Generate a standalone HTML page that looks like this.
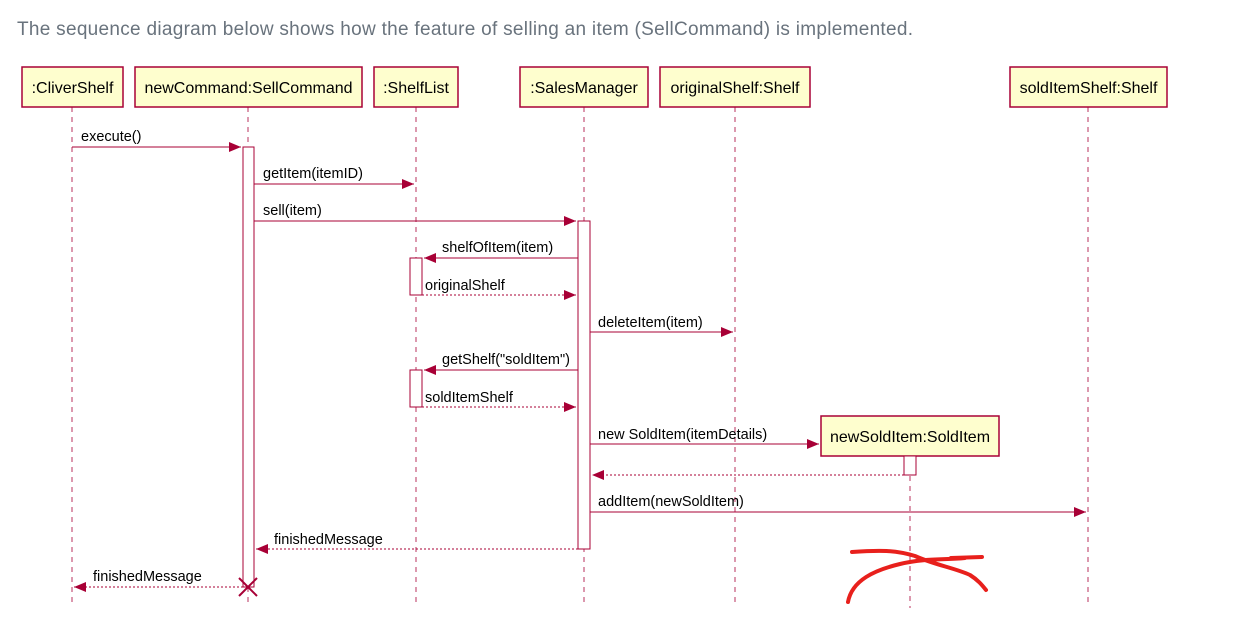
<!DOCTYPE html>
<html><head><meta charset="utf-8"><style>
html,body{margin:0;padding:0;background:#fff;width:1235px;height:628px;overflow:hidden}
svg{display:block}
</style></head><body>
<svg width="1235" height="628" xmlns="http://www.w3.org/2000/svg">
<defs>
<marker id="a" markerWidth="12" markerHeight="10" refX="12" refY="5" orient="auto" markerUnits="userSpaceOnUse"><path d="M0,0 L12,5 L0,10 z" fill="#a80036"/></marker>
</defs>
<text x="17" y="35" font-family="Liberation Sans, sans-serif" font-size="19" fill="#69737d" textLength="896" lengthAdjust="spacing">The sequence diagram below shows how the feature of selling an item (SellCommand) is implemented.</text>
<g stroke="#a80036" stroke-width="1" stroke-dasharray="5,5" opacity="0.8">
<line x1="72" y1="107" x2="72" y2="605"/>
<line x1="248" y1="107" x2="248" y2="605"/>
<line x1="416" y1="107" x2="416" y2="605"/>
<line x1="584" y1="107" x2="584" y2="605"/>
<line x1="735" y1="107" x2="735" y2="605"/>
<line x1="1088" y1="107" x2="1088" y2="605"/>
<line x1="910" y1="456" x2="910" y2="608"/>
</g>
<g fill="#fefece" stroke="#a80036" stroke-width="1.5" font-family="Liberation Sans, sans-serif" font-size="16">
<rect x="22" y="67" width="101" height="40"/>
<rect x="135" y="67" width="227" height="40"/>
<rect x="374" y="67" width="84" height="40"/>
<rect x="520" y="67" width="128" height="40"/>
<rect x="660" y="67" width="150" height="40"/>
<rect x="1010" y="67" width="157" height="40"/>
<rect x="821" y="416" width="178" height="40"/>
</g>
<g font-family="Liberation Sans, sans-serif" font-size="16" fill="#000" text-anchor="middle">
<text x="72.5" y="93">:CliverShelf</text>
<text x="248.5" y="93">newCommand:SellCommand</text>
<text x="416" y="93">:ShelfList</text>
<text x="584" y="93">:SalesManager</text>
<text x="735" y="93">originalShelf:Shelf</text>
<text x="1088.5" y="93">soldItemShelf:Shelf</text>
<text x="910" y="442">newSoldItem:SoldItem</text>
</g>
<g fill="#fff" stroke="#a80036" stroke-width="1">
<rect x="243" y="147" width="11" height="440"/>
<rect x="578" y="221" width="12" height="328"/>
<rect x="410" y="258" width="12" height="37"/>
<rect x="410" y="370" width="12" height="37"/>
<rect x="904" y="456" width="12" height="19"/>
</g>
<g stroke="#a80036" stroke-width="1" fill="none" marker-end="url(#a)">
<line x1="72" y1="147" x2="241" y2="147"/>
<line x1="254" y1="184" x2="414" y2="184"/>
<line x1="254" y1="221" x2="576" y2="221"/>
<line x1="578" y1="258" x2="424" y2="258"/>
<line x1="422" y1="295" x2="576" y2="295" stroke-dasharray="2,2"/>
<line x1="590" y1="332" x2="733" y2="332"/>
<line x1="578" y1="370" x2="424" y2="370"/>
<line x1="422" y1="407" x2="576" y2="407" stroke-dasharray="2,2"/>
<line x1="590" y1="444" x2="819" y2="444"/>
<line x1="904" y1="475" x2="592" y2="475" stroke-dasharray="2,2"/>
<line x1="590" y1="512" x2="1086" y2="512"/>
<line x1="578" y1="549" x2="256" y2="549" stroke-dasharray="2,2"/>
<line x1="243" y1="587" x2="74" y2="587" stroke-dasharray="2,2"/>
</g>
<g stroke="#a80036" stroke-width="2">
<line x1="239" y1="578" x2="257" y2="596"/><line x1="257" y1="578" x2="239" y2="596"/>
</g>
<g font-family="Liberation Sans, sans-serif" font-size="14.5" fill="#000">
<text x="81" y="141">execute()</text>
<text x="263" y="178">getItem(itemID)</text>
<text x="263" y="215">sell(item)</text>
<text x="442" y="252">shelfOfItem(item)</text>
<text x="425" y="290">originalShelf</text>
<text x="598" y="327">deleteItem(item)</text>
<text x="442" y="364">getShelf("soldItem")</text>
<text x="425" y="402">soldItemShelf</text>
<text x="598" y="439">new SoldItem(itemDetails)</text>
<text x="598" y="506">addItem(newSoldItem)</text>
<text x="274" y="544">finishedMessage</text>
<text x="93" y="581">finishedMessage</text>
</g>
<g stroke="#e8201c" stroke-width="4" fill="none" stroke-linecap="round">
<path d="M852,552 C880,550 895,550 915,556 C935,565 955,568 970,575 C978,580 982,585 986,590"/>
<path d="M848,602 C852,580 875,570 900,564 C925,558 945,560 965,558"/>
<path d="M951,558 L982,557"/>
</g>
</svg>
</body></html>
